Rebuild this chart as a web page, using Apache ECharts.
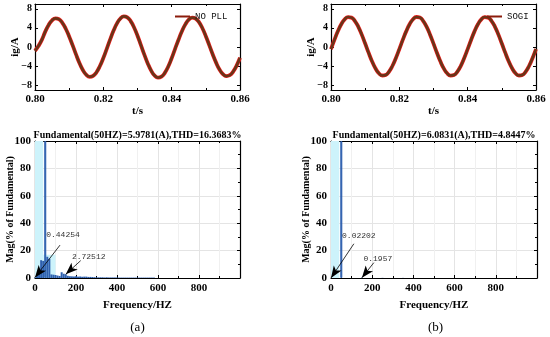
<!DOCTYPE html>
<html><head><meta charset="utf-8">
<script src="https://cdn.jsdelivr.net/npm/echarts@6/dist/echarts.min.js"></script>
<style>html,body{margin:0;padding:0;background:#fff}#c{width:550px;height:337px}</style>
</head><body><div id="c"></div>
<script>
// ---------- data ----------
const timeS = [0.800,0.801,0.802,0.803,0.804,0.805,0.806,0.807,0.808,0.809,
  0.810,0.811,0.812,0.813,0.814,0.815,0.816,0.817,0.818,0.819,
  0.820,0.821,0.822,0.823,0.824,0.825,0.826,0.827,0.828,0.829,
  0.830,0.831,0.832,0.833,0.834,0.835,0.836,0.837,0.838,0.839,
  0.840,0.841,0.842,0.843,0.844,0.845,0.846,0.847,0.848,0.849,
  0.850,0.851,0.852,0.853,0.854,0.855,0.856,0.857,0.858,0.859,0.860];
const igNoPll = [-0.8,0.2,1.49,3.21,4.62,5.58,5.99,5.81,5.07,3.82,
  2.21,0.38,-1.55,-3.35,-4.82,-5.81,-6.24,-6.05,-5.28,-3.98,
  -2.30,-0.39,1.59,3.43,4.94,5.96,6.40,6.21,5.41,4.09,
  2.36,0.40,-1.59,-3.43,-4.94,-5.96,-6.40,-6.21,-5.41,-4.09,
  -2.36,-0.40,1.53,3.30,4.74,5.72,6.14,5.96,5.19,3.92,
  2.26,0.39,-1.52,-3.27,-4.70,-5.67,-6.09,-5.91,-5.15,-3.89,-2.25];
const igSogi = [-0.43,1.49,3.28,4.76,5.79,6.27,6.15,5.44,4.22,2.59,
  0.73,-1.19,-2.98,-4.46,-5.49,-5.97,-5.85,-5.14,-3.92,-2.29,
  -0.43,1.48,3.27,4.75,5.80,6.28,6.16,5.43,4.21,2.58,
  0.72,-1.20,-2.99,-4.47,-5.50,-5.98,-5.86,-5.15,-3.93,-2.30,
  -0.44,1.47,3.27,4.76,5.79,6.27,6.15,5.44,4.22,2.59,
  0.73,-1.19,-2.98,-4.46,-5.49,-5.97,-5.85,-5.14,-3.92,-2.29,-0.43];
const timeTicks = [0.80, 0.82, 0.84, 0.86];
const igTicks = [-8, -4, 0, 4, 8];
const freqTicks = [0, 200, 400, 600, 800];
const magTicks = [0, 20, 40, 60, 80, 100];

const freqA = [0,10,20,30,40,50,60,70,80,90,100,110,120,130,140,150,160,170,180,190,
  200,210,220,230,240,250,260,270,280,290,300,310,320,330,340,350,360,370,380,390,
  400,410,420,430,440,450,460,470,480,490,500,510,520,530,540,550,560,570,580];
const magA = [0.44254,2.0,4.5,13.0,12.5,100,15.5,14.0,2.6,2.4,2.2,1.8,1.5,4.2,3.1,2.72512,1.6,1.3,1.2,1.1,
  1.2,1.0,1.1,0.9,1.0,1.0,0.8,0.8,0.7,0.6,0.5,0.5,0.5,0.5,0.4,0.5,0.4,0.4,0.4,0.4,
  0.4,0.3,0.3,0.3,0.3,0.3,0.3,0.3,0.3,0.3,0.3,0.3,0.3,0.3,0.3,0.3,0.3,0.3,0.3];
const freqB = [0,50,150,250,350];
const magB = [0.02202,100,0.1957,0.1,0.08];
const fundFreq = 50;

const legendA = 'NO PLL';
const legendB = 'SOGI';
const titleA = 'Fundamental(50HZ)=5.9781(A),THD=16.3683%';
const titleB = 'Fundamental(50HZ)=6.0831(A),THD=4.8447%';
const annotA = [{text:'0.44254', freq:0, mag:0.44254}, {text:'2.72512', freq:150, mag:2.72512}];
const annotB = [{text:'0.02202', freq:0, mag:0.02202}, {text:'0.1957', freq:150, mag:0.1957}];

// ---------- layout / style ----------
const SERIF = '"Liberation Serif","DejaVu Serif",serif';
const MONO = '"Liberation Mono","DejaVu Sans Mono",monospace';
const grids = [
  {left:35, top:4, width:205, height:86},
  {left:331, top:4, width:205, height:86},
  {left:35, top:141, width:205, height:137},
  {left:331, top:141, width:206, height:137}
];
const lineAx = {show:true, onZero:false, lineStyle:{color:'#000', width:1.2}};
const tickIn = {show:true, inside:true, length:3, lineStyle:{color:'#000', width:1}};
const lblStyle = {color:'#000', fontFamily:SERIF, fontWeight:'bold', fontSize:11};
const nameStyle = {color:'#000', fontFamily:SERIF, fontWeight:'bold', fontSize:11};
const minus = v => String(v).replace('-', '\u2212');

const xAxes = [], yAxes = [];
for (let gi = 0; gi < 4; gi++) {
  const top = gi < 2;
  const xBase = top
    ? {type:'value', gridIndex:gi, min:timeTicks[0], max:timeTicks[timeTicks.length-1], interval:0.02,
       minorTick:{show:true, splitNumber:2, length:2, lineStyle:{color:'#000'}}, splitLine:{show:false}}
    : {type:'value', gridIndex:gi, min:0, max:1000, interval:200,
       minorTick:{show:true, splitNumber:2, length:2, lineStyle:{color:'#000'}},
       splitLine:{show:true, lineStyle:{color:'#e4e4e4', width:1}},
       minorSplitLine:{show:true, lineStyle:{color:'#f0f0f0', width:1}}};
  const yBase = top
    ? {type:'value', gridIndex:gi, min:-9, max:9, splitLine:{show:false}}
    : {type:'value', gridIndex:gi, min:0, max:100, interval:20,
       minorTick:{show:true, splitNumber:2, length:2, lineStyle:{color:'#000'}},
       splitLine:{show:true, lineStyle:{color:'#e4e4e4', width:1}}};
  xAxes.push(Object.assign({}, xBase, {
    position:'bottom', axisLine:lineAx, axisTick:tickIn,
    axisLabel: top
      ? Object.assign({}, lblStyle, {margin:4, formatter:v => v.toFixed(2)})
      : Object.assign({}, lblStyle, {margin:5, showMaxLabel:false}),
    name: top ? 't/s' : 'Frequency/HZ', nameLocation:'middle', nameGap: top ? 16 : 22,
    nameMoveOverlap:false, nameTextStyle:nameStyle
  }));
  xAxes.push(Object.assign({}, xBase, {
    position:'top', axisLine:lineAx, axisTick:tickIn, axisLabel:{show:false},
    splitLine:{show:false}, minorSplitLine:{show:false}
  }));
  const yTick = top ? Object.assign({}, tickIn, {customValues:igTicks}) : tickIn;
  yAxes.push(Object.assign({}, yBase, {
    position:'left', axisLine:lineAx, axisTick:yTick,
    axisLabel: top
      ? Object.assign({}, lblStyle, {fontSize:10, margin:3, customValues:igTicks, formatter:minus})
      : Object.assign({}, lblStyle, {margin:4}),
    name: top ? 'ig/A' : 'Mag(% of Fundamental)', nameLocation:'middle', nameGap: top ? 14 : 20,
    nameMoveOverlap:false,
    nameTextStyle: top ? nameStyle : Object.assign({}, nameStyle, {fontSize:10})
  }));
  yAxes.push(Object.assign({}, yBase, {
    position:'right', axisLine:lineAx, axisTick:yTick, axisLabel:{show:false},
    splitLine:{show:false}
  }));
}

const bandColor = '#f01e1e', waveColor = '#6a3418', legColor = '#8b1c0c';
function wave(gi, vals, name) {
  const pts = timeS.map((t, i) => [t, vals[i]]);
  return [
    {type:'line', name:name + ' band', xAxisIndex:2*gi, yAxisIndex:2*gi, data:pts, smooth:true,
     showSymbol:false, silent:true, z:2, lineStyle:{color:bandColor, width:3.8}},
    {type:'line', name:name, xAxisIndex:2*gi, yAxisIndex:2*gi, data:pts, smooth:true,
     showSymbol:false, silent:true, z:3, itemStyle:{color:legColor},
     lineStyle:{color:waveColor, width:2.6}}
  ];
}

const barColor = '#2d5fae';
function bars(gi, freq, mag, annots, fromPts, textOff, areas) {
  const data = freq.map((f, i) => {
    const d = {value:[f, mag[i]]};
    if (f === fundFreq) d.itemStyle = {borderColor:barColor, borderWidth:1};
    return d;
  });
  return {
    type:'bar', xAxisIndex:2*gi, yAxisIndex:2*gi, data:data, barWidth:2, z:3,
    itemStyle:{color:barColor}, silent:true,
    markArea:{silent:true, itemStyle:{color:'#cdf3fb'}, data:areas},
    markLine:{silent:true, symbol:['none','arrow'], symbolSize:[7,12], animation:false,
      lineStyle:{color:'#000', width:0.8, type:'solid'}, label:{show:false},
      data: annots.map((a, k) => [{coord:fromPts[k]}, {coord:[a.freq, a.mag]}])},
    markPoint:{silent:true, symbol:'circle', symbolSize:0, animation:false,
      data: annots.map((a, k) => ({coord:fromPts[k], value:a.text,
        label:{show:true, position:'inside', offset:textOff[k], formatter:a.text,
               color:'#333', fontFamily:MONO, fontSize:8}}))}
  };
}

const option = {
  animation:false,
  backgroundColor:'#fff',
  grid:grids,
  xAxis:xAxes,
  yAxis:yAxes,
  legend:[
    {data:[{name:legendA, icon:'rect'}], left:170, top:7, itemWidth:15, itemHeight:2, itemGap:5,
     textStyle:{fontFamily:MONO, fontSize:9, color:'#111'}, selectedMode:false},
    {data:[{name:legendB, icon:'rect'}], left:482, top:7, itemWidth:15, itemHeight:2, itemGap:5,
     textStyle:{fontFamily:MONO, fontSize:9, color:'#111'}, selectedMode:false}
  ],
  series:[].concat(
    wave(0, igNoPll, legendA),
    wave(1, igSogi, legendB),
    [bars(2, freqA, magA, annotA, [[122,24],[223,12.7]], [[3,-10],[8,-4]],
          [[{xAxis:0},{xAxis:40}], [{xAxis:40, yAxis:0},{xAxis:100, yAxis:17}]]),
     bars(3, freqB, magB, annotB, [[111,25],[208,11.2]], [[5,-8],[4,-4]],
          [[{xAxis:0},{xAxis:40}]])]
  ),
  graphic:[
    {type:'text', x:137.5, y:135, style:{text:titleA, textAlign:'center', textVerticalAlign:'middle',
      font:'bold 10px ' + SERIF, fill:'#000'}},
    {type:'text', x:434, y:135, style:{text:titleB, textAlign:'center', textVerticalAlign:'middle',
      font:'bold 10px ' + SERIF, fill:'#000'}},
    {type:'text', x:137.5, y:328, style:{text:'(a)', textAlign:'center', textVerticalAlign:'middle',
      font:'13px ' + SERIF, fill:'#000'}},
    {type:'text', x:435.5, y:328, style:{text:'(b)', textAlign:'center', textVerticalAlign:'middle',
      font:'13px ' + SERIF, fill:'#000'}}
  ]
};
const chart = echarts.init(document.getElementById('c'), null, {renderer:'canvas'});
chart.setOption(option);
</script></body></html>
